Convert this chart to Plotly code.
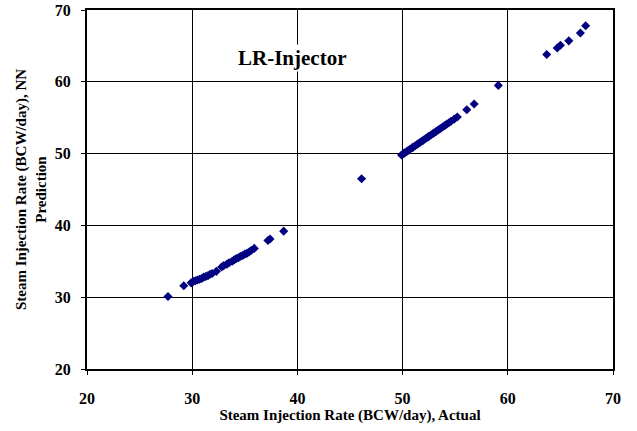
import plotly.graph_objects as go

# Lower cluster (Actual, NN Prediction)
low_x = [27.7, 29.2, 29.9, 30.1, 30.3, 30.5, 30.7, 30.9, 31.1, 31.3, 31.5, 31.7, 31.9, 32.3,
         32.8, 33.0, 33.3, 33.5, 33.8, 34.0, 34.2, 34.4, 34.6, 34.8, 35.0, 35.2, 35.4, 35.6,
         35.9, 37.2, 37.4, 38.7]
low_y = [30.1, 31.6, 32.0, 32.2, 32.3, 32.4, 32.5, 32.6, 32.8, 32.9, 33.0, 33.2, 33.3, 33.6,
         34.2, 34.4, 34.6, 34.8, 35.0, 35.2, 35.4, 35.5, 35.7, 35.8, 36.0, 36.1, 36.3, 36.5,
         36.8, 37.9, 38.1, 39.2]

mid_x = [46.1]
mid_y = [46.5]

up_x = [49.9, 50.1, 50.2, 50.4, 50.5, 50.7, 50.9, 51.0, 51.2, 51.4, 51.5, 51.7, 51.9, 52.0,
        52.2, 52.4, 52.5, 52.7, 52.9, 53.0, 53.2, 53.4, 53.6, 53.8, 54.0, 54.2, 54.4, 54.6,
        54.9, 55.2, 56.1, 56.8, 59.1]
up_y = [49.8, 50.0, 50.1, 50.3, 50.4, 50.6, 50.8, 50.9, 51.1, 51.3, 51.4, 51.6, 51.8, 51.9,
        52.1, 52.3, 52.4, 52.6, 52.8, 52.9, 53.1, 53.3, 53.5, 53.7, 53.9, 54.1, 54.3, 54.5,
        54.8, 55.1, 56.1, 56.9, 59.5]

top_x = [63.7, 64.7, 65.0, 65.8, 66.9, 67.4]
top_y = [63.8, 64.7, 65.1, 65.7, 66.8, 67.8]

xs = low_x + mid_x + up_x + top_x
ys = low_y + mid_y + up_y + top_y

tick_vals = [20, 30, 40, 50, 60, 70]
tick_text = ["<b>%d</b>" % v for v in tick_vals]
title_text = "LR-Injector"
x_title = "Steam Injection Rate (BCW/day), Actual"
y_title = "Steam Injection Rate (BCW/day), NN<br>Prediction"

FONT = "Liberation Serif"

fig = go.Figure()
fig.add_trace(go.Scatter(
    x=xs, y=ys, mode="markers",
    marker=dict(symbol="diamond", size=7, color="#000080", line=dict(width=0)),
    showlegend=False,
))

axis_common = dict(
    range=[20, 70], tickvals=tick_vals, ticktext=tick_text,
    showgrid=True, gridcolor="black", gridwidth=1,
    showline=True, linecolor="black", linewidth=2, mirror=True,
    ticks="outside", ticklen=4, tickwidth=1, tickcolor="black",
    zeroline=False, automargin=False,
    tickfont=dict(family=FONT, size=16, color="black"),
)

fig.update_xaxes(**axis_common, ticklabelstandoff=10,
                 title=dict(text="<b>" + x_title + "</b>", font=dict(family=FONT, size=15, color="black"),
                            standoff=0))
fig.update_yaxes(**axis_common, ticklabelstandoff=7,
                 title=dict(text="<b>" + y_title + "</b>", font=dict(family=FONT, size=15, color="black"),
                            standoff=5))

fig.add_annotation(x=39.45, y=63.3, xref="x", yref="y", text="<b>" + title_text + "</b>",
                   showarrow=False, font=dict(family=FONT, size=21, color="black"),
                   bgcolor="white")

fig.update_layout(
    width=637, height=431,
    margin=dict(l=87, r=24, t=10, b=62),
    plot_bgcolor="white", paper_bgcolor="white",
)

fig.write_html("out.html")
